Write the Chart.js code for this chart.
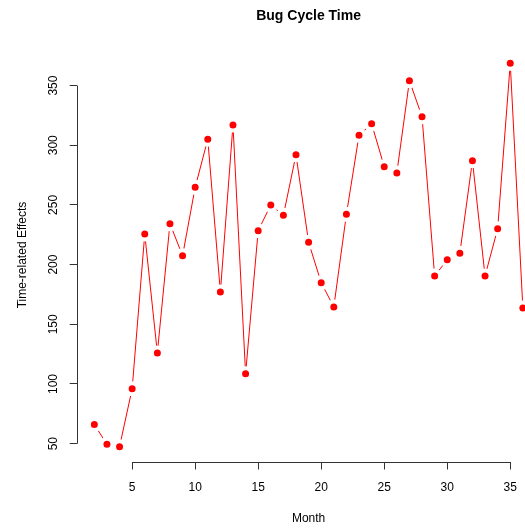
<!DOCTYPE html>
<html>
<head>
<meta charset="utf-8">
<script src="https://cdn.jsdelivr.net/npm/chart.js@4/dist/chart.umd.min.js"></script>
<style>
  html, body { margin: 0; padding: 0; background: #fff; overflow: hidden; }
  #wrap { width: 540px; height: 531px; }
</style>
</head>
<body>
<div id="wrap"><canvas id="c" width="540" height="531"></canvas></div>
<script>
// Monthly bug cycle time measurements
const months = [2, 3, 4, 5, 6, 7, 8, 9, 10, 11, 12, 13, 14, 15, 16, 17, 18, 19,
                20, 21, 22, 23, 24, 25, 26, 27, 28, 29, 30, 31, 32, 33, 34, 35, 36];
const effects = [66, 49.5, 47.5, 96, 225.6, 126, 234.3, 207.5, 264.7, 305, 177, 317,
                 108.6, 228.4, 250, 241.3, 292, 218.7, 184.8, 164.5, 242.1, 308.3, 318,
                 282, 276.7, 354, 323.9, 190.5, 204.1, 209.5, 287, 190.5, 230, 368.6, 163.7];
const xTicks = [5, 10, 15, 20, 25, 30, 35];
const yTicks = [50, 100, 150, 200, 250, 300, 350];

// axis ranges extended 4% beyond the data on each side
function paddedRange(vals) {
  const lo = Math.min(...vals), hi = Math.max(...vals);
  const pad = (hi - lo) * 0.04;
  return [lo - pad, hi + pad];
}
const [xMin, xMax] = paddedRange(months);
const [yMin, yMax] = paddedRange(effects);

const FONT = "'Liberation Sans', Arial, Helvetica, sans-serif";
const AXIS = '#333';

// axis lines that run only between the first and last tick
const axisLines = {
  id: 'axisLines',
  afterDraw(chart) {
    const { ctx, chartArea, scales } = chart;
    ctx.save();
    ctx.strokeStyle = AXIS;
    ctx.lineWidth = 1;
    const yb = Math.round(chartArea.bottom) + 0.5;
    ctx.beginPath();
    ctx.moveTo(scales.x.getPixelForValue(xTicks[0]), yb);
    ctx.lineTo(scales.x.getPixelForValue(xTicks[xTicks.length - 1]), yb);
    ctx.stroke();
    const xl = Math.round(chartArea.left) + 0.5;
    ctx.beginPath();
    ctx.moveTo(xl, scales.y.getPixelForValue(yTicks[0]));
    ctx.lineTo(xl, scales.y.getPixelForValue(yTicks[yTicks.length - 1]));
    ctx.stroke();
    ctx.restore();
  }
};

new Chart(document.getElementById('c'), {
  type: 'line',
  data: {
    datasets: [{
      data: months.map((m, i) => ({ x: m, y: effects[i] })),
      borderColor: '#ff0000',
      borderWidth: 1,
      backgroundColor: '#ff0000',
      pointBackgroundColor: '#ff0000',
      pointBorderColor: '#ffffff',
      pointBorderWidth: 4,
      pointRadius: 5.5,
      tension: 0
    }]
  },
  options: {
    responsive: false,
    animation: false,
    layout: { padding: 0, autoPadding: false },
    plugins: {
      legend: { display: false },
      tooltip: { enabled: false },
      title: {
        display: true,
        text: 'Bug Cycle Time',
        fullSize: false,
        color: '#000',
        font: { family: FONT, size: 14, weight: 'bold' },
        padding: { top: 7.6, bottom: 23.6 }
      }
    },
    scales: {
      x: {
        type: 'linear',
        min: xMin,
        max: xMax,
        afterFit(s) { s.height = 69; s.paddingLeft = 0; s.paddingRight = 0; },
        afterBuildTicks(s) { s.ticks = xTicks.map(v => ({ value: v })); },
        grid: { display: true, drawOnChartArea: false, drawTicks: true, tickLength: 7.5, color: AXIS },
        border: { display: false },
        ticks: { color: '#000', font: { family: FONT, size: 12 }, padding: 11, maxRotation: 0 },
        title: {
          display: true,
          text: 'Month',
          color: '#000',
          font: { family: FONT, size: 12 },
          padding: { top: 0, bottom: 5.5 }
        }
      },
      y: {
        type: 'linear',
        min: yMin,
        max: yMax,
        afterFit(s) { s.width = 77.2; s.paddingTop = 0; s.paddingBottom = 0; },
        afterBuildTicks(s) { s.ticks = yTicks.map(v => ({ value: v })); },
        grid: { display: true, drawOnChartArea: false, drawTicks: true, tickLength: 7.5, color: AXIS },
        border: { display: false },
        ticks: { color: '#000', font: { family: FONT, size: 12 }, padding: 6, minRotation: 90, maxRotation: 90, crossAlign: 'center' },
        title: {
          display: true,
          text: 'Time-related Effects',
          color: '#000',
          font: { family: FONT, size: 12 },
          padding: { top: 15.8, bottom: 0 }
        }
      }
    }
  },
  plugins: [axisLines]
});
</script>
</body>
</html>
